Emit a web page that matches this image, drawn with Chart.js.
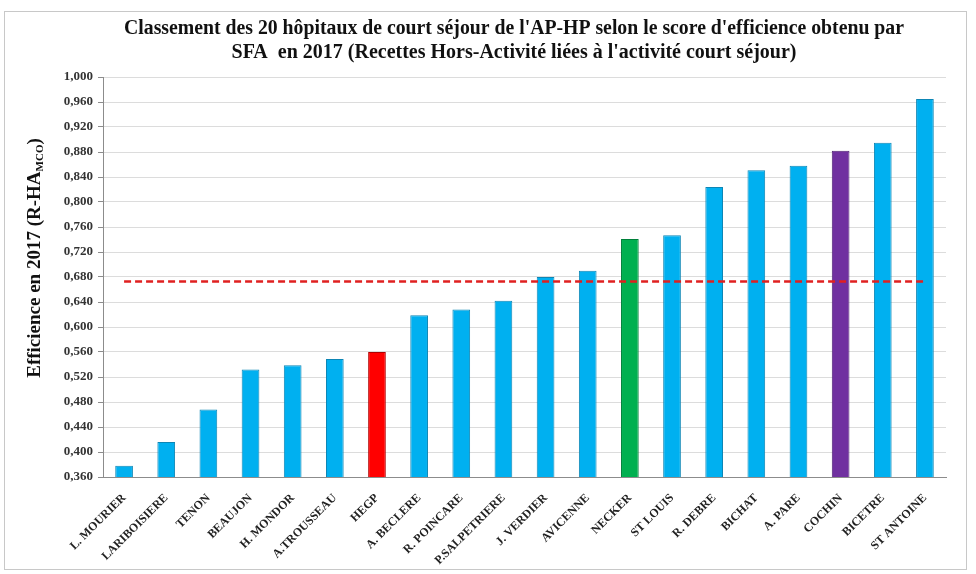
<!DOCTYPE html>
<html><head><meta charset="utf-8">
<script src="https://cdn.jsdelivr.net/npm/chart.js@4.4.1/dist/chart.umd.min.js"></script>
<style>
html,body{margin:0;padding:0;background:#fff;}
#wrap{position:relative;width:976px;height:574px;overflow:hidden;}
#frame{position:absolute;left:4px;top:11px;width:961px;height:557px;border:1px solid #c8c8c8;pointer-events:none;}
canvas{position:absolute;left:0;top:0;}
</style></head><body>
<div id="wrap"><canvas id="c" width="976" height="574"></canvas><div id="frame"></div></div>
<script>
// ---- data ----
const hospitals = ['L. MOURIER','LARIBOISIERE','TENON','BEAUJON','H. MONDOR','A.TROUSSEAU','HEGP','A. BECLERE','R. POINCARE','P.SALPETRIERE','J. VERDIER','AVICENNE','NECKER','ST LOUIS','R. DEBRE','BICHAT','A. PARE','COCHIN','BICETRE','ST ANTOINE'];
const scores = [0.378,0.416,0.468,0.532,0.539,0.549,0.560,0.619,0.628,0.642,0.680,0.690,0.741,0.747,0.824,0.851,0.858,0.882,0.895,0.965];
const meanScore = 0.673;
const yMin = 0.36, yMax = 1.0, yStep = 0.04;
const titleLines = ["Classement des 20 hôpitaux de court séjour de l'AP-HP selon le score d'efficience obtenu par",
                    "SFA  en 2017 (Recettes Hors-Activité liées à l'activité court séjour)"];
const yTitleMain = 'Efficience en 2017 (R-HA';
const yTitleSub = 'MCO';
const yTitleEnd = ')';

// ---- styles ----
const baseColor = '#00B0F0';
const highlight = {'HEGP':'#FF0000','NECKER':'#00B050','COCHIN':'#7030A0'};
const borderHighlight = {'HEGP':'#b00000','NECKER':'#00803a','COCHIN':'#4d1f73'};
const serif = '"Liberation Serif", "Times New Roman", serif';

const textPlugin = {
  id: 'texts',
  afterDraw(chart) {
    const ctx = chart.ctx;
    ctx.save();
    ctx.fillStyle = '#111';
    ctx.textAlign = 'center';
    ctx.textBaseline = 'middle';
    ctx.font = 'bold 20px ' + serif;
    ctx.fillText(titleLines[0], 514, 29, 780);
    ctx.fillText(titleLines[1], 514, 53, 580);
    // y-axis title with subscript
    ctx.translate(34, 258);
    ctx.rotate(-Math.PI / 2);
    ctx.textAlign = 'left';
    ctx.textBaseline = 'alphabetic';
    const mainFont = 'bold 19px ' + serif, subFont = 'bold 11px ' + serif;
    ctx.font = mainFont; const w1 = ctx.measureText(yTitleMain).width; const w3 = ctx.measureText(yTitleEnd).width;
    ctx.font = subFont; const w2 = ctx.measureText(yTitleSub).width;
    let x = -(w1 + w2 + w3) / 2;
    const base = 6;
    ctx.font = mainFont; ctx.fillText(yTitleMain, x, base); x += w1;
    ctx.font = subFont; ctx.fillText(yTitleSub, x, base + 3); x += w2;
    ctx.font = mainFont; ctx.fillText(yTitleEnd, x, base);
    ctx.restore();
  }
};

new Chart(document.getElementById('c'), {
  data: {
    labels: hospitals,
    datasets: [
      {
        type: 'line',
        data: [{x: hospitals[0], y: meanScore}, {x: hospitals[hospitals.length - 1], y: meanScore}],
        borderColor: '#e02020',
        borderDash: [7, 4],
        borderWidth: 2.5,
        pointRadius: 0,
        fill: false,
        order: 0
      },
      {
        type: 'bar',
        data: scores,
        backgroundColor: hospitals.map(h => highlight[h] || baseColor),
        borderColor: hospitals.map(h => borderHighlight[h] || '#0d86b5'),
        borderWidth: 1,
        barPercentage: 0.42,
        categoryPercentage: 1.0,
        order: 1
      }
    ]
  },
  options: {
    responsive: false,
    animation: false,
    layout: {padding: {top: 77, right: 30, bottom: 0, left: 0}},
    plugins: {legend: {display: false}, tooltip: {enabled: false}, title: {display: false}},
    scales: {
      x: {
        offset: true,
        grid: {display: false},
        border: {display: true, color: '#8c8c8c', width: 1},
        ticks: {maxRotation: 45, minRotation: 45, autoSkip: false, padding: 6, color: '#222',
                font: {family: serif, size: 12, weight: 'bold'}},
        afterFit(s) { s.height = 97; }
      },
      y: {
        min: yMin, max: yMax,
        ticks: {stepSize: yStep, color: '#333', padding: 5,
                font: {family: serif, size: 13, weight: 'bold'},
                callback: v => v.toFixed(3).replace('.', ',')},
        grid: {color: '#dcdcdc', tickColor: '#8c8c8c', tickLength: 5, drawTicks: true},
        border: {color: '#8c8c8c', width: 1},
        afterFit(s) { s.width = 103; }
      }
    }
  },
  plugins: [textPlugin]
});
</script>
</body></html>
